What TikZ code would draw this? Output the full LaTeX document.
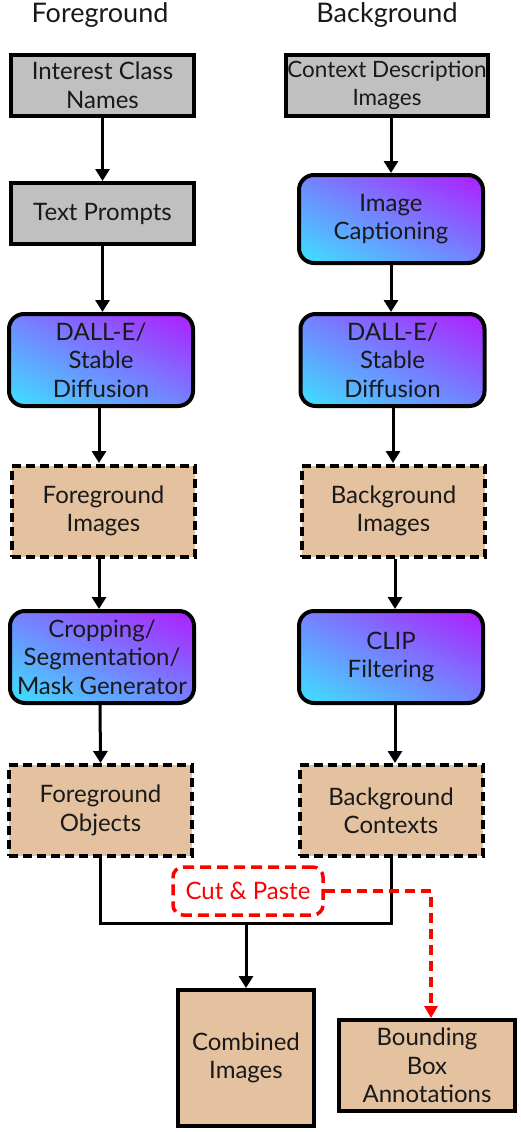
\documentclass[tikz,border=0pt]{standalone}
\usepackage{fontspec}
\setmainfont{Lato}
\usetikzlibrary{arrows.meta,shadings}
\definecolor{boxgray}{HTML}{C0C0C0}
\definecolor{tan}{HTML}{E4C2A0}
\definecolor{gpurple}{HTML}{B01CFF}
\definecolor{gmid}{HTML}{7482FF}
\definecolor{gcyan}{HTML}{3CE2FF}
\definecolor{cpred}{HTML}{FF0000}
\tikzset{
  txt/.style={align=center, font=\fontsize{24}{28.5}\selectfont, inner sep=0pt, text=black!90},
  graybox/.style={txt, draw, line width=4pt, fill=boxgray, minimum width=#1},
  graybox/.default=183pt,
  gradbox/.style={txt, draw, line width=4pt, rounded corners=15pt, upper right=gpurple, lower left=gcyan, upper left=gmid, lower right=gmid, minimum width=184pt, minimum height=92pt},
  tanbox/.style={txt, draw, line width=4pt, fill=tan, dash pattern=on 9pt off 5pt, minimum width=183pt, minimum height=91pt},
  solidtan/.style={txt, draw, line width=4pt, fill=tan},
  arr/.style={line width=3pt, -{Triangle[length=12pt,width=14pt]}},
  conn/.style={line width=3pt},
  redarr/.style={line width=3.5pt, cpred, dash pattern=on 10pt off 6pt, -{Triangle[length=12pt,width=13pt]}},
  title/.style={font=\fontsize{27}{30}\selectfont, inner sep=0pt, text=black!90}
}
\begin{document}
\begin{tikzpicture}[x=1pt,y=-1pt]
\useasboundingbox (0,0) rectangle (520,1132);
% titles
\node[title] (tf) at (100,15) {Foreground};
\node[title] (tb) at (387,15) {Background};
% left column
\node[graybox, minimum height=61pt] (ic) at (102.5,85.5) {Interest Class\\Names};
\node[graybox, minimum height=61pt] (tp) at (102.5,213.5) {Text Prompts};
\node[gradbox] (dl) at (101,360) {DALL-E/\\Stable\\Diffusion};
\node[tanbox] (fi) at (103.5,511) {Foreground\\Images};
\node[gradbox] (cr) at (102,657) {Cropping/\\Segmentation/\\Mask Generator};
\node[tanbox] (fo) at (100.5,810.5) {Foreground\\Objects};
% right column
\node[graybox=202pt, minimum height=61pt, font=\fontsize{22.5}{28.5}\selectfont] (cd) at (387,85.5) {Context Description\\Images};
\node[gradbox, minimum height=88pt] (cap) at (391,219) {Image\\Captioning};
\node[gradbox] (dr) at (392.5,360) {DALL-E/\\Stable\\Diffusion};
\node[tanbox] (bi) at (393.5,511) {Background\\Images};
\node[gradbox] (cl) at (391,657) {CLIP\\Filtering};
\node[tanbox] (bc) at (391,810.5) {Background\\Contexts};
% bottom
\node[txt, draw=cpred, text=cpred, line width=3.5pt, rounded corners=10pt, dash pattern=on 11pt off 6pt, minimum width=150pt, minimum height=48pt] (cp) at (248,891) {Cut \& Paste};
\node[solidtan, minimum width=136pt, minimum height=136pt] (ci) at (246,1058) {Combined\\Images};
\node[solidtan, minimum width=176pt, minimum height=91pt] (bb) at (427,1065.5) {Bounding\\Box\\Annotations};
\coordinate (j) at (246,923);
% arrows
\draw[arr] (ic.south) -- (tp.north);
\draw[arr] (tp.south) -- (tp.south |- dl.north);
\draw[arr] ([yshift=4pt]dl.south -| 99,0) -- (99,463);
\draw[arr] (fi.south -| 99,0) -- (99,609);
\draw[arr] ([yshift=4pt]cr.south -| 100,0) -- (fo.north);
\draw[arr] (cd.south -| 391,0) -- (cap.north);
\draw[arr] (cap.south) -- (cap.south |- dr.north);
\draw[arr] ([yshift=4pt]dr.south -| 393,0) -- (393,463);
\draw[arr] (bi.south -| 395,0) -- (395,609);
\draw[arr] ([yshift=4pt]cl.south -| 395,0) -- (395,763);
% merge
\draw[conn] (fo.south) |- (bc.south |- j) -- (bc.south);
\draw[arr] (j) -- (ci.north);
% red dashed
\draw[redarr] (cp.east) -| ([xshift=4pt]bb.north);
\end{tikzpicture}
\end{document}
